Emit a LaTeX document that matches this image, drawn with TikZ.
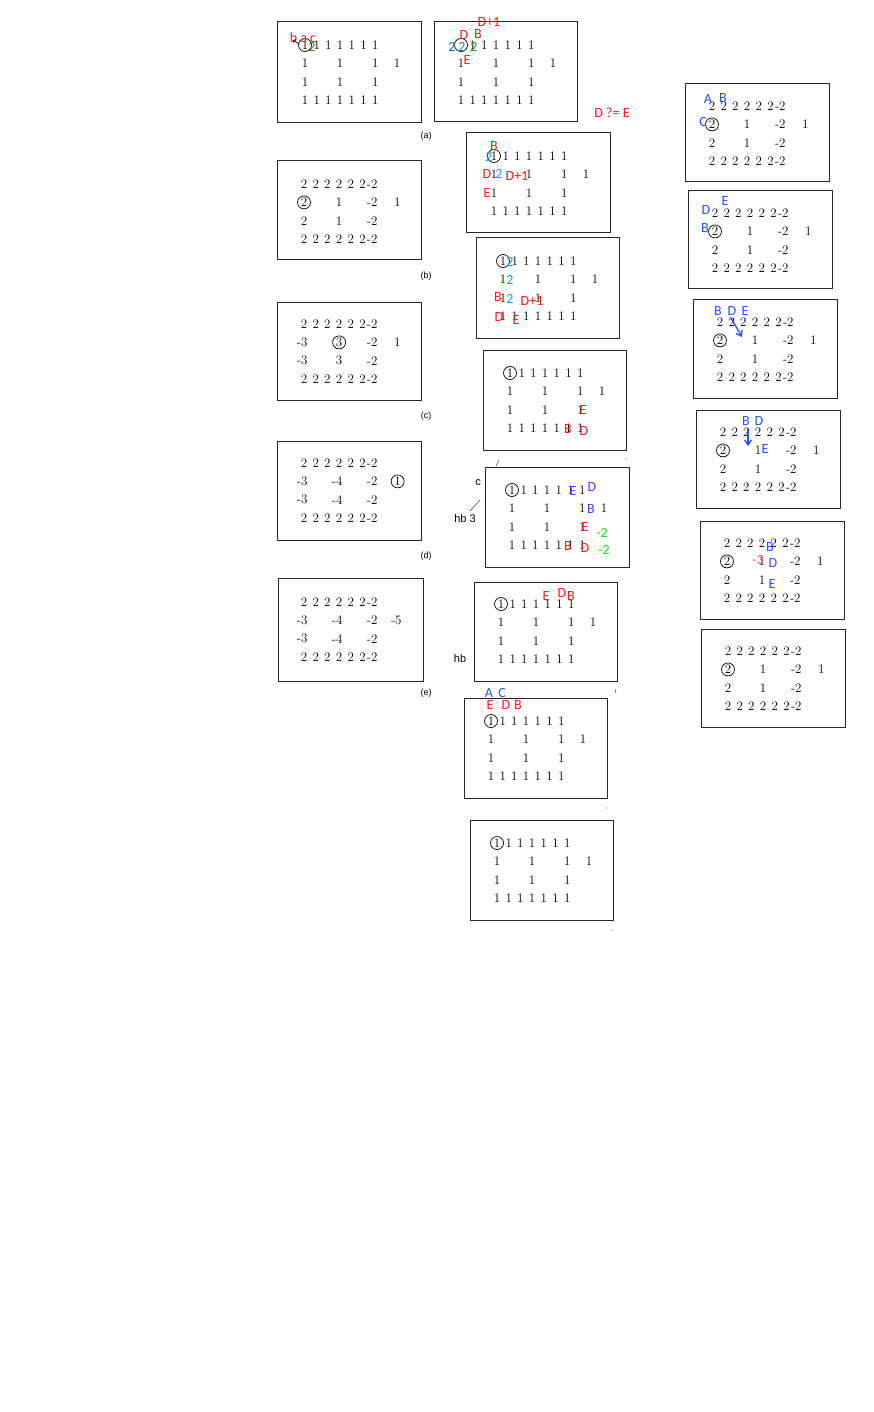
\documentclass[tikz,border=0pt]{standalone}
\usepackage{fontspec}
\newfontfamily\notefont{Carlito}
\newfontfamily\capfont{Liberation Sans}
\usetikzlibrary{arrows.meta, positioning}
\definecolor{notered}{RGB}{250, 25, 25}
\definecolor{noteblue}{RGB}{40, 80, 245}
\definecolor{noteazure}{RGB}{30, 150, 240}
\definecolor{notesteel}{RGB}{40, 100, 170}
\definecolor{noteteal}{RGB}{30, 140, 140}
\definecolor{notegreen}{RGB}{40, 140, 30}
\definecolor{notelime}{RGB}{20, 225, 20}
\definecolor{notepurple}{RGB}{100, 45, 240}
\definecolor{notepink}{RGB}{240, 80, 130}

% grid of ones: name, first digit, circled text
\newcommand{\onesgrid}[4]{%
  \node[circd] (#1-00) at (#2,#3) {#4};
  \foreach \c in {1,...,6} \node[num] (#1-0\c) at (#2+\c*11.7,#3) {1};
  \foreach \r in {1,2} \foreach \c in {0,3,6} \node[num] (#1-\r\c) at (#2+\c*11.7,#3+\r*18.4) {1};
  \node[num] (#1-1x) at (#2+92,#3+18.4) {1};
  \foreach \c in {0,...,6} \node[num] (#1-3\c) at (#2+\c*11.7,#3+55.2) {1};
}
% frame of twos: name, first digit
\newcommand{\twosgrid}[3]{%
  \foreach \r in {0,3} {
    \foreach \c in {0,...,5} \node[num] (#1-\r\c) at (#2+\c*11.7,#3+\r*18.4) {2};
    \node[neg] (#1-\r6) at (#2+70.2,#3+\r*18.4) {-2};
  }
  \foreach \r in {1,2} \node[neg] (#1-\r6) at (#2+70.2,#3+\r*18.4) {-2};
}

\begin{document}
\begin{tikzpicture}[
  x=1pt, y=-1pt,
  panel/.style={draw=black!85, line width=1pt},
  num/.style={font=\fontsize{13}{13}\selectfont, inner sep=0pt},
  neg/.style={num, anchor=east, xshift=3.6pt},
  circd/.style={num, circle, draw, line width=0.7pt, minimum size=13pt, inner sep=0.5pt},
  note/.style={font=\notefont\fontsize{14}{14}\selectfont, inner sep=0pt},
  tag/.style={font=\capfont\fontsize{9}{9}\selectfont, inner sep=0pt},
  scrawl/.style={font=\capfont\fontsize{11}{11}\selectfont, inner sep=0pt},
  speck/.style={draw=black!70, line width=0.6pt},
  bluearrow/.style={draw=noteblue, line width=1.3pt, -{Straight Barb[length=5pt, width=7pt]}}
  ]
  \useasboundingbox (0,0) rectangle (874,1412);

  % (a)
  \draw[panel] (277,22) rectangle (421,123);
  \onesgrid{pa}{305}{45}{1}
  \node[tag] (lab-a) at (426,136) {(a)};
  \node[note, text=notered] (pa-bac) at (303,38) {b a c};
  \node[note, text=notegreen] (pa-2) at (312,47) {2};
  \coordinate (pa-t1) at (299,44);
  \coordinate (pa-t2) at (293,40);
  \draw[-{Straight Barb[length=2pt]}, line width=0.6pt] (pa-t1) -- (pa-t2);

  % (b)
  \draw[panel] (277,161) rectangle (421,260);
  \twosgrid{pb}{304}{184}
  \node[circd] (pb-10) at (pb-00 |- pb-16) {2};
  \node[num] (pb-13) at (pb-03 |- pb-16) {1};
  \node[num, right=16pt of pb-16] (pb-1x) {1};
  \node[num] (pb-20) at (pb-00 |- pb-26) {2};
  \node[num] (pb-23) at (pb-03 |- pb-26) {1};
  \node[tag] (lab-b) at (426,276) {(b)};

  % (c)
  \draw[panel] (277,303) rectangle (421,400);
  \twosgrid{pc}{304}{324}
  \node[neg] (pc-10) at (pc-00 |- pc-16) {-3};
  \node[circd] (pc-13) at (pc-03 |- pc-16) {3};
  \node[num, right=16pt of pc-16] (pc-1x) {1};
  \node[neg] (pc-20) at (pc-00 |- pc-26) {-3};
  \node[num] (pc-23) at (pc-03 |- pc-26) {3};
  \node[tag] (lab-c) at (426,416) {(c)};

  % (d)
  \draw[panel] (277,441) rectangle (421,540);
  \twosgrid{pd}{304}{463}
  \node[neg] (pd-10) at (pd-00 |- pd-16) {-3};
  \node[neg] (pd-13) at (pd-03 |- pd-16) {-4};
  \node[circd, right=13pt of pd-16] (pd-1x) {1};
  \node[neg] (pd-20) at (pd-00 |- pd-26) {-3};
  \node[neg] (pd-23) at (pd-03 |- pd-26) {-4};
  \node[tag] (lab-d) at (426,556) {(d)};

  % (e)
  \draw[panel] (278,578) rectangle (423,681);
  \twosgrid{pe}{304}{602}
  \node[neg] (pe-10) at (pe-00 |- pe-16) {-3};
  \node[neg] (pe-13) at (pe-03 |- pe-16) {-4};
  \node[num, right=13pt of pe-16] (pe-1x) {-5};
  \node[neg] (pe-20) at (pe-00 |- pe-26) {-3};
  \node[neg] (pe-23) at (pe-03 |- pe-26) {-4};
  \node[tag] (lab-e) at (426,693) {(e)};

  % middle column
  \draw[panel] (434,22) rectangle (577,122);
  \onesgrid{m1}{461}{45}{\phantom{1}}
  \node[note, text=notered] (m1-d1) at (489,22) {D+1};
  \node[note, text=notered] (m1-D) at (464,35) {D};
  \node[note, text=notered] (m1-B) at (478,34) {B};
  \node[note, text=notesteel] (m1-2a) at (452,47) {2};
  \node[note, text=noteteal] (m1-2b) at (462,47) {2};
  \node[note, text=notegreen] (m1-2c) at (474,47) {2};
  \node[note, text=notered] (m1-E) at (467,60) {E};
  \node[note, text=notered] (deq) at (612,113) {D ?= E};

  \draw[panel] (466,133) rectangle (610,233);
  \onesgrid{m2}{494}{156}{1}
  \node[note, text=notered] (m2-B) at (494,146) {B};
  \node[note, text=noteazure] (m2-2a) at (489,157) {2};
  \node[note, text=notered] (m2-D) at (487,174) {D};
  \node[note, text=noteazure] (m2-2b) at (499,174) {2};
  \node[note, text=notered] (m2-d1) at (517,176) {D+1};
  \node[note, text=notered] (m2-E) at (487,193) {E};

  \draw[panel] (476,238) rectangle (619,338);
  \onesgrid{m3}{503}{261}{1}
  \node[note, text=noteazure] (m3-2a) at (510,262) {2};
  \node[note, text=noteazure] (m3-2b) at (510,280) {2};
  \node[note, text=noteazure] (m3-2c) at (510,299) {2};
  \node[note, text=notered] (m3-B) at (498,297) {B};
  \node[note, text=notered] (m3-d1) at (532,301) {D+1};
  \node[note, text=notered] (m3-D) at (499,317) {D};
  \node[note, text=notered] (m3-E) at (516,320) {E};

  \draw[panel] (483,350) rectangle (626,450);
  \onesgrid{m4}{510}{373}{1}
  \node[note, text=notered] (m4-E) at (583,410) {E};
  \node[note, text=notered] (m4-B) at (568,429) {B};
  \node[note, text=notered] (m4-D) at (584,431) {D};
  \draw[speck] (496,466) -- (499,460);
  \fill[black!70] (626,459) circle (0.7);

  \draw[panel] (485,467) rectangle (629,567);
  \onesgrid{m5}{512}{490}{1}
  \node[note, text=notepurple] (m5-E1) at (573,491) {E};
  \node[note, text=notepurple] (m5-D1) at (592,487) {D};
  \node[note, text=notepurple] (m5-B1) at (591,509) {B};
  \node[note, text=notered] (m5-E2) at (585,527) {E};
  \node[note, text=notered] (m5-B2) at (568,546) {B};
  \node[note, text=notered] (m5-D2) at (585,548) {D};
  \node[note, text=notelime] (m5-m2a) at (602,533) {-2};
  \node[note, text=notelime] (m5-m2b) at (604,550) {-2};
  \node[scrawl] (m5-c) at (478,483) {c};
  \node[scrawl] (m5-hb) at (465,519) {hb 3};
  \draw[speck] (470,511) -- (480,500);

  \draw[panel] (474,582) rectangle (617,681);
  \onesgrid{m6}{501}{604}{1}
  \node[note, text=notered] (m6-E) at (546,596) {E};
  \node[note, text=notered] (m6-D) at (562,593) {D};
  \node[note, text=notered] (m6-B) at (571,596) {B};
  \node[scrawl] (m6-hb) at (460,659) {hb};
  \draw[speck] (616,689) -- (615,693);

  \draw[panel] (464,698) rectangle (607,798);
  \onesgrid{m7}{491}{721}{1}
  \node[note, text=noteblue] (m7-A) at (489,693) {A};
  \node[note, text=noteblue] (m7-C) at (502,693) {C};
  \node[note, text=notered] (m7-E) at (490,705) {E};
  \node[note, text=notered] (m7-D) at (506,705) {D};
  \node[note, text=notered] (m7-B) at (518,705) {B};
  \fill[black!70] (606,808) circle (0.7);

  \draw[panel] (470,820) rectangle (613,920);
  \onesgrid{m8}{497}{843}{1}
  \fill[black!70] (612,930) circle (0.7);

  % right column
  \draw[panel] (685,84) rectangle (829,182);
  \twosgrid{r1}{712}{106}
  \node[circd] (r1-10) at (r1-00 |- r1-16) {2};
  \node[num] (r1-13) at (r1-03 |- r1-16) {1};
  \node[num, right=16pt of r1-16] (r1-1x) {1};
  \node[num] (r1-20) at (r1-00 |- r1-26) {2};
  \node[num] (r1-23) at (r1-03 |- r1-26) {1};
  \node[note, text=noteblue] (r1-A) at (708,99) {A};
  \node[note, text=noteblue] (r1-B) at (723,98) {B};
  \node[note, text=noteblue] (r1-C) at (703,122) {C};

  \draw[panel] (688,191) rectangle (832,289);
  \twosgrid{r2}{715}{213}
  \node[circd] (r2-10) at (r2-00 |- r2-16) {2};
  \node[num] (r2-13) at (r2-03 |- r2-16) {1};
  \node[num, right=16pt of r2-16] (r2-1x) {1};
  \node[num] (r2-20) at (r2-00 |- r2-26) {2};
  \node[num] (r2-23) at (r2-03 |- r2-26) {1};
  \node[note, text=noteblue] (r2-E) at (725,201) {E};
  \node[note, text=noteblue] (r2-D) at (706,210) {D};
  \node[note, text=noteblue] (r2-B) at (705,228) {B};

  \draw[panel] (693,300) rectangle (837,398);
  \twosgrid{r3}{720}{322}
  \node[circd] (r3-10) at (r3-00 |- r3-16) {2};
  \node[num] (r3-13) at (r3-03 |- r3-16) {1};
  \node[num, right=16pt of r3-16] (r3-1x) {1};
  \node[num] (r3-20) at (r3-00 |- r3-26) {2};
  \node[num] (r3-23) at (r3-03 |- r3-26) {1};
  \node[note, text=noteblue] (r3-B) at (718,311) {B};
  \node[note, text=noteblue] (r3-D) at (732,311) {D};
  \node[note, text=noteblue] (r3-E) at (745,311) {E};
  \coordinate (r3-p) at (731,318);
  \coordinate (r3-q) at (742,337);
  \draw[bluearrow] (r3-p) -- (r3-q);

  \draw[panel] (696,410) rectangle (840,508);
  \twosgrid{r4}{723}{432}
  \node[circd] (r4-10) at (r4-00 |- r4-16) {2};
  \node[num] (r4-13) at (r4-03 |- r4-16) {1};
  \node[num, right=16pt of r4-16] (r4-1x) {1};
  \node[num] (r4-20) at (r4-00 |- r4-26) {2};
  \node[num] (r4-23) at (r4-03 |- r4-26) {1};
  \node[note, text=noteblue] (r4-B) at (746,421) {B};
  \node[note, text=noteblue] (r4-D) at (759,421) {D};
  \node[note, text=noteblue] (r4-E) at (765,449) {E};
  \coordinate (r4-p) at (748,428);
  \coordinate (r4-q) at (748,446);
  \draw[bluearrow] (r4-p) -- (r4-q);

  \draw[panel] (700,521) rectangle (844,619);
  \twosgrid{r5}{727}{543}
  \node[circd] (r5-10) at (r5-00 |- r5-16) {2};
  \node[num] (r5-13) at (r5-03 |- r5-16) {1};
  \node[num, right=16pt of r5-16] (r5-1x) {1};
  \node[num] (r5-20) at (r5-00 |- r5-26) {2};
  \node[num] (r5-23) at (r5-03 |- r5-26) {1};
  \node[note, text=noteblue] (r5-B) at (770,547) {B};
  \node[note, text=notepink] (r5-m3) at (758,560) {-3};
  \node[note, text=noteblue] (r5-D) at (773,563) {D};
  \node[note, text=noteblue] (r5-E) at (772,584) {E};

  \draw[panel] (701,629) rectangle (845,727);
  \twosgrid{r6}{728}{651}
  \node[circd] (r6-10) at (r6-00 |- r6-16) {2};
  \node[num] (r6-13) at (r6-03 |- r6-16) {1};
  \node[num, right=16pt of r6-16] (r6-1x) {1};
  \node[num] (r6-20) at (r6-00 |- r6-26) {2};
  \node[num] (r6-23) at (r6-03 |- r6-26) {1};
\end{tikzpicture}
\end{document}
